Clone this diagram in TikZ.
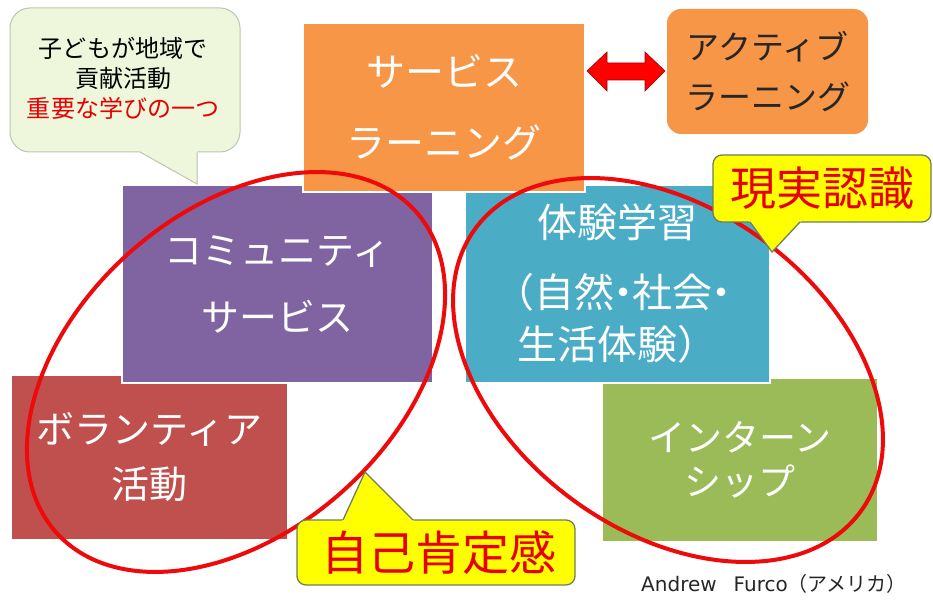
\documentclass[tikz,border=0pt]{standalone}
\usepackage{fontspec}
\setmainfont{Noto Sans CJK JP}
\newfontfamily\latinfont{DejaVu Sans}
\definecolor{cOrange}{HTML}{F79646}
\definecolor{cPurple}{HTML}{8064A2}
\definecolor{cBlue}{HTML}{4BACC6}
\definecolor{cRedBox}{HTML}{C0504D}
\definecolor{cGreen}{HTML}{9BBB59}
\definecolor{cYellow}{HTML}{FFFF00}
\definecolor{cRing}{HTML}{EE0A0A}
\definecolor{cRedText}{HTML}{E80000}
\definecolor{cBubble}{HTML}{EEF7DC}
\definecolor{cBubbleLine}{HTML}{BCC7AA}
\definecolor{cYellowLine}{HTML}{6E7E5E}
\definecolor{cArrowLine}{HTML}{A00000}
\begin{document}
\begin{tikzpicture}[x=1pt,y=-1pt,
  box/.style={rectangle, draw=white, line width=1.2pt, inner sep=0pt, align=center, text=white},
  ring/.style={draw=cRing, line width=4pt},
  bubbleline/.style={draw=cBubbleLine, line width=1pt},
  yline/.style={draw=cYellowLine, line width=1.3pt}]
\useasboundingbox (0,0) rectangle (933,601);
\fill[white] (0,0) rectangle (933,601);

% lower boxes first
\node[box, fill=cRedBox, minimum width=277pt, minimum height=165pt,
      font=\fontsize{38}{55}\selectfont] (vol) at (149.5,457.5) {ボランティア\\活動};
\node[box, fill=cGreen, minimum width=276pt, minimum height=164pt,
      font=\fontsize{37}{44}\selectfont] (intern) at (740,460) {インターン\\シップ};
% middle boxes
\node[box, fill=cPurple, minimum width=311pt, minimum height=198pt,
      font=\fontsize{38}{67}\selectfont] (comm) at (277.5,284) {コミュニティ\\サービス};
\node[box, fill=cBlue, minimum width=305pt, minimum height=198pt,
      font=\fontsize{40}{52}\selectfont] (exp) at (617.5,284)
      {体験学習\\[18pt]（自然\kern-11pt・\kern-11pt社会\kern-11pt・\\生活体験）};
% top boxes
\node[box, fill=cOrange, minimum width=282pt, minimum height=169pt,
      font=\fontsize{39}{71}\selectfont] (sl) at (444,107.5) {サービス\\ラーニング};
\node[rectangle, rounded corners=14pt, fill=cOrange, minimum width=201pt, minimum height=125pt,
      inner sep=0pt, align=center, text=black!85,
      font=\fontsize{33}{50}\selectfont] (al) at (767.5,71.5) {アクティブ\\ラーニング};

% double arrow between the two top boxes
\coordinate (aL) at (587,71);
\coordinate (aR) at (665,71);
\filldraw[fill=red, draw=cArrowLine, line width=0.6pt, line join=miter]
  (aL) -- ++(20,-19) -- ++(0,11) -- ++(38,0) -- ++(0,-11) -- (aR)
  -- ++(-20,20) -- ++(0,-11) -- ++(-38,0) -- ++(0,11) -- cycle;

% red rings
\draw[ring, rotate around={41.7:(236,372)}] (236,372) ellipse [x radius=241pt, y radius=160pt];
\draw[ring, rotate around={-36.3:(668,370)}] (668,370) ellipse [x radius=239pt, y radius=161pt];

% top-left speech bubble
\filldraw[fill=cBubble, bubbleline, rounded corners=20pt] (10,8) rectangle (240,152);
\fill[cBubble] (139,150.8) -- (197.6,150.8) -- (197.6,184) -- cycle;
\draw[bubbleline] (140,152) -- (197,184) -- (197,152.4);
\node[align=center, text=black, font=\fontsize{24}{30}\selectfont] (note) at (123,78)
  {子どもが地域で\\貢献活動\\\textcolor{cRedText}{重要な学びの一つ}};

% yellow callout: self-esteem
\filldraw[fill=cYellow, yline, rounded corners=9pt] (297,520) rectangle (575,585);
\fill[cYellow] (342,521) -- (365,472) -- (414,521) -- cycle;
\draw[yline] (343,520) -- (365,472) -- (413,520);
\node[text=cRedText, font=\fontsize{47}{47}\selectfont] (self) at (439,553) {自己肯定感};

% yellow callout: reality
\filldraw[fill=cYellow, yline, rounded corners=9pt] (713,155) rectangle (931,222);
\fill[cYellow] (749,221) -- (772,252) -- (801,221) -- cycle;
\draw[yline] (750,222) -- (772,252) -- (800,222);
\node[text=cRedText, font=\fontsize{46}{46}\selectfont] (real) at (822,188) {現実認識};

% credit
\node[anchor=west, inner sep=0pt, text=black!85, font=\fontsize{20}{20}\selectfont] (credit) at (641,584)
  {{\latinfont Andrew\hspace{17pt}Furco}{\fontsize{20}{20}\selectfont（アメリカ）}};
\end{tikzpicture}
\end{document}
